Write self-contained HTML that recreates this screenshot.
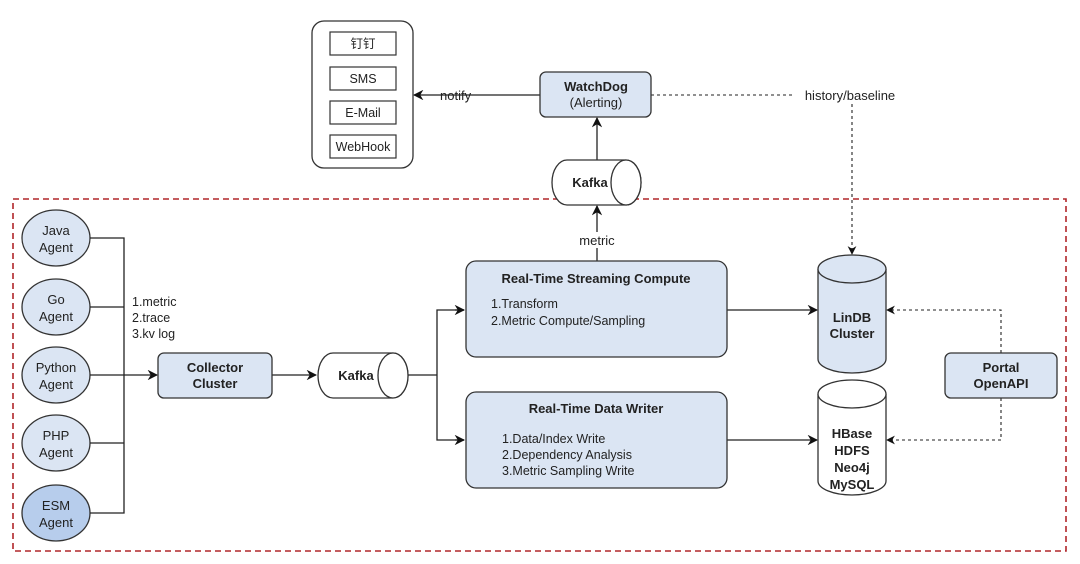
<!DOCTYPE html>
<html><head><meta charset="utf-8"><style>
html,body{margin:0;padding:0;background:#fff;width:1080px;height:564px;overflow:hidden}
svg text{font-family:"Liberation Sans","Noto Sans CJK SC",sans-serif;fill:#222}
.b{font-weight:bold}
</style></head><body>
<svg width="1080" height="564" viewBox="0 0 1080 564" xmlns="http://www.w3.org/2000/svg">
<defs>
<marker id="a" viewBox="0 0 10 10" refX="9" refY="5" markerWidth="8" markerHeight="8" orient="auto"><path d="M0,0 L10,5 L0,10 L3,5 z" fill="#111"/></marker>
</defs>
<rect x="13" y="199" width="1053" height="352" fill="none" stroke="#b0262a" stroke-width="1.6" stroke-dasharray="6,4"/>
<g stroke="#333" stroke-width="1.3" fill="#dbe5f3">
<ellipse cx="56" cy="238" rx="34" ry="28"/>
<ellipse cx="56" cy="307" rx="34" ry="28"/>
<ellipse cx="56" cy="375" rx="34" ry="28"/>
<ellipse cx="56" cy="443" rx="34" ry="28"/>
<ellipse cx="56" cy="513" rx="34" ry="28" fill="#b7cdec"/>
</g>
<g font-size="13" text-anchor="middle">
<text x="56" y="235">Java</text><text x="56" y="252">Agent</text>
<text x="56" y="304">Go</text><text x="56" y="321">Agent</text>
<text x="56" y="372">Python</text><text x="56" y="389">Agent</text>
<text x="56" y="440">PHP</text><text x="56" y="457">Agent</text>
<text x="56" y="510">ESM</text><text x="56" y="527">Agent</text>
</g>
<g stroke="#222" stroke-width="1.3" fill="none">
<path d="M90,238H124V513H90M90,307H124M90,443H124"/>
<path d="M90,375H157" marker-end="url(#a)"/>
<path d="M272,375H316" marker-end="url(#a)"/>
<path d="M408,375H437V310H464M437,375V440H464" />
<path d="M455,310H464" marker-end="url(#a)"/>
<path d="M455,440H464" marker-end="url(#a)"/>
<path d="M727,310H817" marker-end="url(#a)"/>
<path d="M727,440H817" marker-end="url(#a)"/>
<path d="M597,261V206" marker-end="url(#a)"/>
<path d="M597,160V118" marker-end="url(#a)"/>
<path d="M540,95H414" marker-end="url(#a)"/>
</g>
<g stroke="#222" stroke-width="1.1" fill="none" stroke-dasharray="3,3">
<path d="M651,95H852V254" marker-end="url(#a)"/>
<path d="M1001,353V310H887" marker-end="url(#a)"/>
<path d="M1001,398V440H887" marker-end="url(#a)"/>
</g>
<rect x="795" y="86" width="110" height="18" fill="#fff"/>
<text x="850" y="100" font-size="13" text-anchor="middle">history/baseline</text>
<rect x="440" y="88" width="32" height="14" fill="#fff" opacity="0"/>
<text x="440" y="100" font-size="13">notify</text>
<rect x="575" y="232" width="44" height="16" fill="#fff"/>
<text x="597" y="245" font-size="13" text-anchor="middle">metric</text>
<g font-size="12.5"><text x="132" y="306">1.metric</text><text x="132" y="322">2.trace</text><text x="132" y="338">3.kv log</text></g>
<rect x="158" y="353" width="114" height="45" rx="6" fill="#dbe5f3" stroke="#333" stroke-width="1.3"/>
<text x="215" y="372" font-size="13" class="b" text-anchor="middle">Collector</text>
<text x="215" y="388" font-size="13" class="b" text-anchor="middle">Cluster</text>
<!-- kafka horizontal -->
<g stroke="#333" stroke-width="1.3" fill="#fff">
<path d="M333,353H393A15,22.5 0 0 1 393,398H333A15,22.5 0 0 1 333,353Z"/>
<ellipse cx="393" cy="375.5" rx="15" ry="22.5"/>
<path d="M567,160H626A15,22.5 0 0 1 626,205H567A15,22.5 0 0 1 567,160Z"/>
<ellipse cx="626" cy="182.5" rx="15" ry="22.5"/>
</g>
<text x="356" y="380" font-size="13" class="b" text-anchor="middle">Kafka</text>
<text x="590" y="187" font-size="13" class="b" text-anchor="middle">Kafka</text>
<rect x="466" y="261" width="261" height="96" rx="10" fill="#dbe5f3" stroke="#333" stroke-width="1.3"/>
<text x="596" y="283" font-size="13" class="b" text-anchor="middle">Real-Time Streaming Compute</text>
<text x="491" y="308" font-size="12.5">1.Transform</text>
<text x="491" y="325" font-size="12.5">2.Metric Compute/Sampling</text>
<rect x="466" y="392" width="261" height="96" rx="10" fill="#dbe5f3" stroke="#333" stroke-width="1.3"/>
<text x="596" y="413" font-size="13" class="b" text-anchor="middle">Real-Time Data Writer</text>
<text x="502" y="443" font-size="12.5">1.Data/Index Write</text>
<text x="502" y="459" font-size="12.5">2.Dependency Analysis</text>
<text x="502" y="475" font-size="12.5">3.Metric Sampling Write</text>
<!-- LinDB -->
<g stroke="#333" stroke-width="1.3">
<path d="M818,269V359A34,14 0 0 0 886,359V269" fill="#dbe5f3"/>
<ellipse cx="852" cy="269" rx="34" ry="14" fill="#dbe5f3"/>
<path d="M818,394V481A34,14 0 0 0 886,481V394" fill="#fff"/>
<ellipse cx="852" cy="394" rx="34" ry="14" fill="#fff"/>
</g>
<text x="852" y="322" font-size="13" class="b" text-anchor="middle">LinDB</text>
<text x="852" y="338" font-size="13" class="b" text-anchor="middle">Cluster</text>
<g font-size="13" class="b" text-anchor="middle">
<text x="852" y="438">HBase</text><text x="852" y="455">HDFS</text><text x="852" y="472">Neo4j</text><text x="852" y="489">MySQL</text>
</g>
<rect x="945" y="353" width="112" height="45" rx="6" fill="#dbe5f3" stroke="#333" stroke-width="1.3"/>
<text x="1001" y="372" font-size="13" class="b" text-anchor="middle">Portal</text>
<text x="1001" y="388" font-size="13" class="b" text-anchor="middle">OpenAPI</text>
<rect x="540" y="72" width="111" height="45" rx="6" fill="#dbe5f3" stroke="#333" stroke-width="1.3"/>
<text x="596" y="91" font-size="13" class="b" text-anchor="middle">WatchDog</text>
<text x="596" y="107" font-size="13" text-anchor="middle">(Alerting)</text>
<rect x="312" y="21" width="101" height="147" rx="12" fill="#fff" stroke="#333" stroke-width="1.3"/>
<g fill="#fff" stroke="#333" stroke-width="1.2">
<rect x="330" y="32" width="66" height="23"/><rect x="330" y="67" width="66" height="23"/>
<rect x="330" y="101" width="66" height="23"/><rect x="330" y="135" width="66" height="23"/>
</g>
<g font-size="12.5" text-anchor="middle">
<text x="363" y="48">钉钉</text><text x="363" y="83">SMS</text><text x="363" y="117">E-Mail</text><text x="363" y="151">WebHook</text>
</g>
</svg>
</body></html>
